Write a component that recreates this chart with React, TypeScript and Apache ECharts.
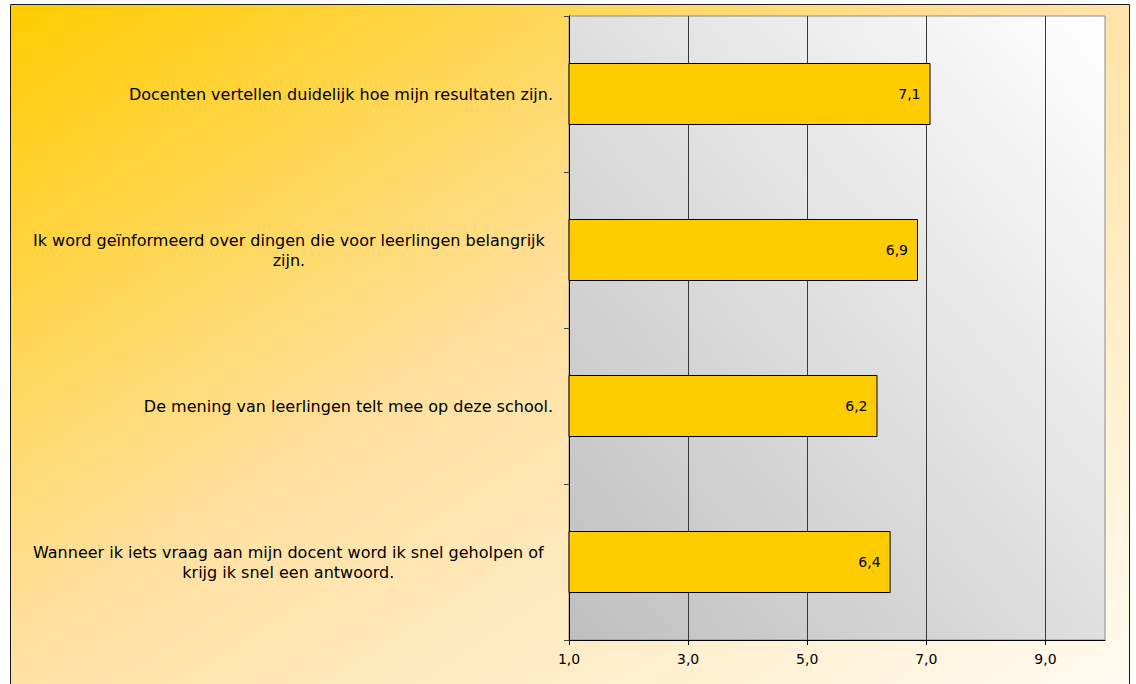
import React, { useEffect, useRef } from 'react';
import * as echarts from 'echarts';

// Category labels, split where the reference wraps them
const categoryLines: string[][] = [
  ['Docenten vertellen duidelijk hoe mijn resultaten zijn.'],
  ['Ik word geïnformeerd over dingen die voor leerlingen belangrijk', 'zijn.'],
  ['De mening van leerlingen telt mee op deze school.'],
  ['Wanneer ik iets vraag aan mijn docent word ik snel geholpen of', 'krijg ik snel een antwoord.'],
];
const categories = categoryLines.map((l) => l.join(' '));
const scores = [7.07, 6.86, 6.18, 6.4];
const tickValues = [1, 3, 5, 7, 9];
const axisMin = 1;
const axisMax = 10;

const FONT = '"DejaVu Sans", sans-serif';
const CAT_SIZE = 16;

function measure(text: string): number {
  const ctx = document.createElement('canvas').getContext('2d');
  if (!ctx) return text.length * 8;
  ctx.font = `${CAT_SIZE}px "DejaVu Sans"`;
  return ctx.measureText(text).width;
}

const fmt = (v: number) => v.toFixed(1).replace('.', ',');

export default function App() {
  const ref = useRef<HTMLDivElement>(null);
  useEffect(() => {
    if (!ref.current) return;
    const chart = echarts.init(ref.current, undefined, { renderer: 'svg' });

    const base = { fontFamily: FONT, fontSize: CAT_SIZE, color: '#000', lineHeight: 20 };
    const BLOCK = 520;
    const rich: Record<string, any> = {};
    categoryLines.forEach((lines, i) => {
      rich['s' + i] = { ...base };
      if (lines.length > 1) {
        const w = measure(lines[0]);
        const shift = Math.max(0, BLOCK - w);
        rich['c' + i] = { ...base, width: w, align: 'center' };
        rich['p' + i] = { ...base, width: shift };
      }
    });

    const option: any = {
      animation: false,
      backgroundColor: '#ffffff',
      graphic: [
        {
          type: 'rect',
          z: -10,
          silent: true,
          shape: { x: 10.5, y: 4.5, width: 1119, height: 720 },
          style: {
            fill: new echarts.graphic.LinearGradient(0, 0, 1, 1, [
              { offset: 0, color: '#FFCC00' },
              { offset: 0.45, color: '#FFE0A0' },
              { offset: 1, color: '#FFFCF5' },
            ]),
            stroke: '#1a1a1a',
            lineWidth: 1,
          },
        },
      ],
      grid: {
        left: 569,
        right: 31,
        top: 16,
        bottom: 44,
        show: true,
        backgroundColor: new echarts.graphic.LinearGradient(0, 1, 1, 0, [
          { offset: 0, color: '#BFBFBF' },
          { offset: 1, color: '#FFFFFF' },
        ]),
        borderColor: '#8a8a8a',
        borderWidth: 1,
      },
      xAxis: {
        type: 'value',
        min: axisMin,
        max: axisMax,
        axisLine: { show: true, lineStyle: { color: '#000', width: 1 } },
        axisTick: { show: true, length: 5, lineStyle: { color: '#000' }, customValues: tickValues },
        axisLabel: {
          customValues: tickValues,
          formatter: (v: number) => fmt(v),
          fontFamily: FONT,
          fontSize: 14,
          color: '#000',
          margin: 12,
        },
        splitLine: { show: true, lineStyle: { color: '#3a3a3a', width: 1 } },
      },
      yAxis: {
        type: 'category',
        inverse: true,
        data: categories,
        axisLine: { show: true, lineStyle: { color: '#000', width: 1 } },
        axisTick: { show: true, length: 5, lineStyle: { color: '#444' } },
        splitLine: { show: false },
        axisLabel: {
          interval: 0,
          margin: 16,
          align: 'right',
          formatter: (value: string) => {
            const i = categories.indexOf(value);
            const lines = categoryLines[i];
            if (!lines) return value;
            if (lines.length === 1) return `{s${i}|${lines[0]}}`;
            return `{s${i}|${lines[0]}}{p${i}| }\n{c${i}|${lines[1]}}{p${i}| }`;
          },
          rich,
        },
      },
      series: [
        {
          type: 'bar',
          data: scores,
          barWidth: 62,
          clip: true,
          itemStyle: { color: '#FFCC00', borderColor: '#000', borderWidth: 1 },
          label: {
            show: true,
            position: 'insideRight',
            distance: 10,
            formatter: (p: any) => fmt(p.value),
            fontFamily: FONT,
            fontSize: 14,
            color: '#000',
          },
        },
      ],
    };
    chart.setOption(option);
    return () => chart.dispose();
  }, []);

  return (
    <div
      ref={ref}
      style={{ position: 'fixed', left: 0, top: 0, width: 1136, height: 684 }}
    />
  );
}
